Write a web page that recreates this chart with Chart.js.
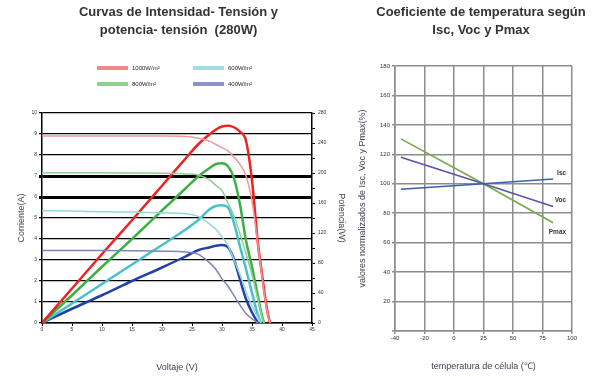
<!DOCTYPE html>
<html>
<head>
<meta charset="utf-8">
<script src="https://cdn.jsdelivr.net/npm/chart.js@4/dist/chart.umd.min.js"></script>
<style>
  html, body { margin: 0; padding: 0; background: #fff; overflow: hidden; }
  #wrap { position: relative; width: 595px; height: 376px; overflow: hidden; }
  #ivChart { position: absolute; left: 0; top: 0; }
  #tempChart { position: absolute; left: 350px; top: 0; }
  .leg { position: absolute; font: 6px "Liberation Sans", Arial, sans-serif; color: #223; white-space: nowrap; line-height: 8px; }
  .leg i { display: inline-block; width: 31px; height: 4px; vertical-align: middle; margin-right: 4px; }
</style>
</head>
<body>
<div id="wrap">
  <canvas id="ivChart" width="357" height="376"></canvas>
  <canvas id="tempChart" width="262" height="376"></canvas>
  <div id="legend"></div>
</div>
<script>
// curvas I-V y P-V
const voltage = [0, 5, 10, 15, 20, 24, 26, 28, 29, 30, 31, 32, 33, 34, 35, 36, 36.5, 37, 37.5, 38];
const irradiance = ['1000W/m²', '800W/m²', '600W/m²', '400W/m²'];

const current1000 = [8.9, 8.9, 8.9, 8.9, 8.9, 8.88, 8.8, 8.65, 8.5, 8.35, 8.2, 7.9, 7.55, 7.0, 5.8, 3.7, 2.6, 1.5, 0.6, 0];
const current800 = [7.15, 7.15, 7.15, 7.14, 7.13, 7.1, 7.05, 6.8, 6.55, 6.3, 5.7, 5.1, 4.25, 3.3, 2.3, 1.1, 0.5, 0, null, null];
const current600 = [5.35, 5.33, 5.3, 5.28, 5.25, 5.2, 5.08, 4.7, 4.45, 4.1, 3.7, 3.0, 2.3, 1.5, 0.8, 0.25, 0, null, null, null];
const current400 = [3.45, 3.45, 3.45, 3.44, 3.42, 3.38, 3.28, 2.85, 2.55, 2.1, 1.75, 1.3, 0.85, 0.45, 0.2, 0, null, null, null, null];

const power1000 = [0, 46, 92, 137, 183, 220, 238, 252, 258, 262, 263, 261, 255, 243, 190, 105, 75, 45, 18, 0];
const power800 = [0, 37, 75, 112, 150, 180, 195, 207, 212, 213, 209, 193, 158, 110, 75, 35, 15, 0, null, null];
const power600 = [0, 26, 52, 78, 104, 125, 137, 152, 156, 157, 154, 133, 102, 72, 40, 10, 0, null, null, null];
const power400 = [0, 19, 37, 56, 74, 89, 97, 101, 103, 104, 101, 85, 58, 32, 14, 0, null, null, null, null];

const voltTicks = [0, 5, 10, 15, 20, 25, 30, 35, 40, 45];

// coeficientes de temperatura
const temperature = [-45, 25, 84];
const tempTickLabels = ['-40', '-20', '0', '25', '50', '75', '100'];
const iscNorm = [96.3, 100, 103.2];
const vocNorm = [118, 100, 84.5];
const pmaxNorm = [130.5, 100, 73.5];
const tempSeries = ['Isc', 'Voc', 'Pmax'];

const FONT = '"Liberation Sans", Arial, sans-serif';

function pts(xs, ys) {
  return xs.map((x, i) => ({ x: x, y: ys[i] })).filter(p => p.y !== null);
}

// leyenda (dos columnas): 1000 | 600 / 800 | 400
const legendColors = ['#f08a8a', '#90d090', '#9fdde3', '#8c94c4'];
const legendOrder = [0, 2, 1, 3];
legendOrder.forEach((k, i) => {
  const d = document.createElement('div');
  d.className = 'leg';
  d.style.left = (97 + (i % 2) * 96) + 'px';
  d.style.top = (64 + Math.floor(i / 2) * 16) + 'px';
  d.innerHTML = '<i style="background:' + legendColors[k] + '"></i>' + irradiance[k];
  document.getElementById('legend').appendChild(d);
});

function ivChart() {
  const ctx = document.getElementById('ivChart').getContext('2d');
  const curr = [current1000, current800, current600, current400];
  const pow = [power1000, power800, power600, power400];
  const thin = ['#ec9a9a', '#8fcf8f', '#98d6dc', '#7c86b4'];
  const thick = ['#ee2222', '#3cb043', '#45c2cc', '#2340a8'];
  const datasets = [];
  irradiance.forEach((name, k) => {
    datasets.push({
      label: name + ' I', data: pts(voltage, curr[k]), yAxisID: 'y',
      borderColor: thin[k], borderWidth: 1.5, pointRadius: 0, cubicInterpolationMode: 'monotone'
    });
  });
  irradiance.forEach((name, k) => {
    datasets.push({
      label: name + ' P', data: pts(voltage, pow[k]), yAxisID: 'y2',
      borderColor: thick[k], borderWidth: 2.5, pointRadius: 0, cubicInterpolationMode: 'monotone'
    });
  });

  new Chart(ctx, {
    type: 'line',
    data: { datasets: datasets },
    options: {
      responsive: false,
      animation: false,
      layout: { padding: 0 },
      plugins: {
        legend: { display: false },
        tooltip: { enabled: false },
        title: {
          display: true,
          text: ['Curvas de Intensidad- Tensión y', 'potencia- tensión  (280W)'],
          color: '#333',
          font: { family: FONT, size: 13, weight: 'bold', lineHeight: 1.4 },
          padding: { top: 3, bottom: 73.6 }
        }
      },
      scales: {
        x: {
          type: 'linear', min: 0, max: 45,
          afterBuildTicks: s => { s.ticks = voltTicks.map(v => ({ value: v })); },
          ticks: { color: '#333', font: { family: FONT, size: 5 }, padding: 1, maxRotation: 0 },
          grid: { drawOnChartArea: false, color: '#000', tickLength: 3 },
          border: { color: '#000', width: 1.5 },
          title: { display: true, text: 'Voltaje (V)', color: '#445', font: { family: FONT, size: 9 }, padding: { top: 0, bottom: 3 } },
          afterFit: s => { s.height = 53; }
        },
        y: {
          position: 'left', min: 0, max: 10,
          ticks: { stepSize: 1, color: '#333', font: { family: FONT, size: 5 }, padding: 2 },
          grid: {
            color: '#000', tickLength: 3,
            lineWidth: c => (c.tick && (c.tick.value === 6 || c.tick.value === 7)) ? 3 : 1.3
          },
          border: { color: '#000', width: 1.5 },
          title: { display: true, text: 'Corriente(A)', color: '#445', font: { family: FONT, size: 9 }, padding: { top: 16 } },
          afterFit: s => { s.width = 42; }
        },
        y2: {
          position: 'right', min: 0, max: 280,
          ticks: { stepSize: 20, autoSkip: false, color: '#333', font: { family: FONT, size: 5 }, padding: 3,
            callback: v => (v % 40 === 0 ? v : '') },
          grid: { drawOnChartArea: false, color: '#000', tickLength: 3 },
          border: { color: '#000', width: 1.5 },
          title: { display: true, text: 'Potencia(W)', color: '#445', font: { family: FONT, size: 9 }, padding: { top: 10 } },
          afterFit: s => { s.width = 45; }
        }
      }
    }
  });
}
ivChart();

// etiquetas al final de cada recta
const endLabels = {
  id: 'endLabels',
  afterDatasetsDraw(chart) {
    const c = chart.ctx;
    const dy = [-6, -6, 9];
    c.save();
    c.font = 'bold 6.5px ' + FONT;
    c.fillStyle = '#333';
    c.textAlign = 'right';
    c.textBaseline = 'middle';
    chart.data.datasets.forEach((ds, i) => {
      const pts = chart.getDatasetMeta(i).data;
      const last = pts[pts.length - 1];
      c.fillText(ds.label, last.x + 13, last.y + dy[i]);
    });
    c.restore();
  }
};

function tempChart() {
  const ctx = document.getElementById('tempChart').getContext('2d');
  const vals = [iscNorm, vocNorm, pmaxNorm];
  const colors = ['#3a62a6', '#5a55a6', '#74aa48'];
  new Chart(ctx, {
    type: 'line',
    data: {
      datasets: tempSeries.map((name, i) => ({
        label: name, data: pts(temperature, vals[i]),
        borderColor: colors[i], borderWidth: 1.6, pointRadius: 0
      }))
    },
    plugins: [endLabels],
    options: {
      responsive: false,
      animation: false,
      layout: { padding: 0 },
      plugins: {
        legend: { display: false },
        tooltip: { enabled: false },
        title: {
          display: true,
          text: ['Coeficiente de temperatura según', 'Isc, Voc y Pmax'],
          color: '#333',
          font: { family: FONT, size: 13, weight: 'bold', lineHeight: 1.4 },
          padding: { top: 3, bottom: 26.6 }
        }
      },
      scales: {
        x: {
          type: 'linear', min: -50, max: 100,
          ticks: { stepSize: 25, color: '#333', font: { family: FONT, size: 6 }, padding: 1, maxRotation: 0,
            callback: (v, i) => tempTickLabels[i] },
          grid: { color: '#8c8c8c', lineWidth: 1.5, tickLength: 3 },
          border: { color: '#8c8c8c', width: 1.5 },
          title: { display: true, text: 'temperatura de célula (℃)', color: '#445', font: { family: FONT, size: 9 }, padding: { top: 0, bottom: 4 } },
          afterFit: s => { s.height = 45; }
        },
        y: {
          min: 0, max: 180,
          ticks: { stepSize: 20, color: '#333', font: { family: FONT, size: 6 }, padding: 2,
            callback: v => (v === 0 ? '' : v) },
          grid: { color: '#8c8c8c', lineWidth: 1.5, tickLength: 3 },
          border: { color: '#8c8c8c', width: 1.5 },
          title: { display: true, text: 'valores normalizados de Isc, Voc y Pmax(%)', color: '#445', font: { family: FONT, size: 9 }, padding: { top: 7 } },
          afterFit: s => { s.width = 45; }
        },
        // espacio a la derecha para las etiquetas, sin marcas
        margen: {
          position: 'right', min: 0, max: 1,
          ticks: { display: false },
          grid: { display: false },
          border: { display: false },
          afterFit: s => { s.width = 40; }
        }
      }
    }
  });
}
tempChart();
</script>
</body>
</html>
